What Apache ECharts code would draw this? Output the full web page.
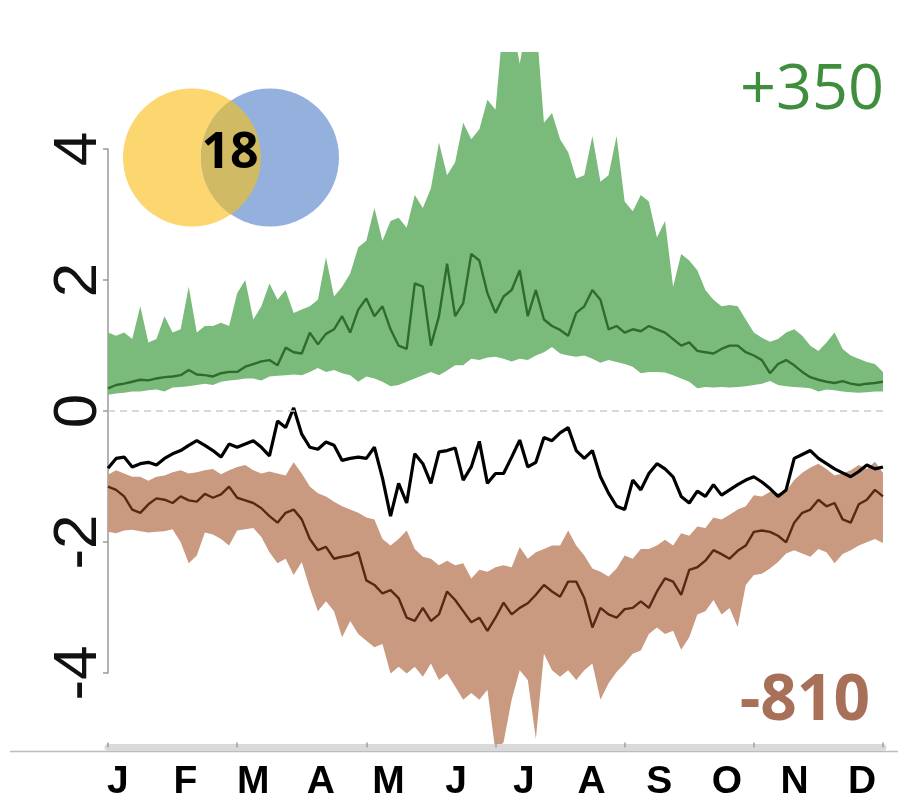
<!DOCTYPE html>
<html>
<head>
<meta charset="utf-8">
<script src="https://cdn.jsdelivr.net/npm/echarts@6/dist/echarts.min.js"></script>
<style>
html, body { margin: 0; padding: 0; background: #fff; }
#chart { width: 898px; height: 804px; }
</style>
</head>
<body>
<div id="chart"></div>
<script>
// month labels under the axis
var months = ['J', 'F', 'M', 'A', 'M', 'J', 'J', 'A', 'S', 'O', 'N', 'D'];

// green group: upper / lower edge of the band, median line
var gU = [1.2, 1.15, 1.2, 1.1, 1.6, 1.05, 1.1, 1.45, 1.2, 1.25,
    1.9, 1.2, 1.3, 1.3, 1.35, 1.3, 1.8, 2.0, 1.4, 1.6,
    1.95, 1.7, 1.85, 1.5, 1.55, 1.6, 1.7, 2.35, 1.75, 1.9,
    2.1, 2.5, 2.6, 3.1, 2.6, 2.9, 2.95, 2.8, 3.3, 3.1,
    3.4, 4.1, 3.6, 3.8, 4.4, 4.15, 4.3, 4.75, 4.6, 6,
    6, 5.3, 6, 6, 4.4, 4.55, 4.15, 3.95, 3.55, 3.6,
    4.2, 3.5, 3.6, 4.2, 3.2, 3.05, 3.3, 3.2, 2.65, 2.9,
    1.9, 2.4, 2.3, 2.15, 1.85, 1.7, 1.6, 1.62, 1.6, 1.4,
    1.2, 1.12, 1.06, 1.1, 1.2, 1.25, 1.15, 1.0, 0.92, 1.05,
    1.2, 0.95, 0.85, 0.8, 0.75, 0.72, 0.6];
var gL = [0.25, 0.27, 0.28, 0.3, 0.3, 0.32, 0.33, 0.3, 0.36, 0.37,
    0.38, 0.4, 0.42, 0.4, 0.45, 0.47, 0.48, 0.5, 0.5, 0.47,
    0.53, 0.54, 0.55, 0.56, 0.55, 0.6, 0.66, 0.6, 0.63, 0.58,
    0.55, 0.45, 0.53, 0.5, 0.45, 0.38, 0.4, 0.45, 0.5, 0.55,
    0.6, 0.55, 0.62, 0.7, 0.7, 0.8, 0.78, 0.82, 0.83, 0.8,
    0.76, 0.8, 0.78, 0.85, 0.9, 0.98, 0.88, 0.85, 0.83, 0.85,
    0.8, 0.74, 0.78, 0.75, 0.72, 0.68, 0.58, 0.6, 0.6, 0.59,
    0.55, 0.5, 0.45, 0.35, 0.37, 0.36, 0.37, 0.36, 0.37, 0.38,
    0.4, 0.42, 0.46, 0.4, 0.38, 0.37, 0.36, 0.35, 0.3, 0.33,
    0.32, 0.3, 0.29, 0.28, 0.29, 0.3, 0.3];
var gM = [0.35, 0.4, 0.42, 0.45, 0.48, 0.47, 0.5, 0.52, 0.53, 0.55,
    0.63, 0.56, 0.55, 0.53, 0.58, 0.6, 0.6, 0.68, 0.72, 0.76,
    0.78, 0.7, 0.97, 0.9, 0.88, 1.2, 1.02, 1.18, 1.25, 1.45,
    1.2, 1.55, 1.72, 1.45, 1.6, 1.25, 1.0, 0.95, 1.95, 1.9,
    1.0, 1.45, 2.25, 1.45, 1.65, 2.4, 2.3, 1.8, 1.5, 1.75,
    1.85, 2.15, 1.45, 1.85, 1.4, 1.3, 1.24, 1.15, 1.5, 1.6,
    1.85, 1.7, 1.25, 1.3, 1.2, 1.25, 1.22, 1.3, 1.25, 1.2,
    1.1, 1.0, 1.05, 0.92, 0.9, 0.88, 0.95, 1.0, 1.0, 0.9,
    0.85, 0.78, 0.58, 0.72, 0.78, 0.7, 0.6, 0.52, 0.48, 0.45,
    0.43, 0.46, 0.42, 0.4, 0.42, 0.43, 0.45];

// black line
var bk = [-0.87, -0.72, -0.7, -0.85, -0.8, -0.78, -0.82, -0.72, -0.65, -0.6,
    -0.52, -0.45, -0.52, -0.6, -0.7, -0.5, -0.55, -0.5, -0.45, -0.55,
    -0.68, -0.15, -0.25, 0.05, -0.35, -0.55, -0.58, -0.47, -0.52, -0.75,
    -0.72, -0.7, -0.72, -0.55, -1.02, -1.6, -1.1, -1.4, -0.65, -0.8,
    -1.1, -0.62, -0.6, -0.56, -1.05, -0.85, -0.46, -1.1, -0.95, -0.95,
    -0.7, -0.44, -0.85, -0.78, -0.4, -0.45, -0.33, -0.25, -0.6, -0.72,
    -0.6, -1.0, -1.25, -1.45, -1.5, -1.05, -1.2, -0.95, -0.8, -0.88,
    -1.0, -1.3, -1.4, -1.22, -1.3, -1.12, -1.28, -1.2, -1.12, -1.05,
    -1.0, -1.08, -1.18, -1.3, -1.2, -0.72, -0.66, -0.6, -0.72, -0.8,
    -0.88, -0.94, -1.0, -0.92, -0.82, -0.88, -0.85];

// brown group: upper / lower edge of the band, median line
var bU = [-0.97, -0.9, -0.95, -1.0, -1.0, -1.06, -1.0, -0.98, -0.93, -0.9,
    -0.95, -0.93, -0.9, -0.88, -0.96, -0.9, -0.85, -0.82, -0.9, -0.95,
    -0.92, -0.95, -0.98, -0.78, -0.95, -1.15, -1.25, -1.3, -1.38, -1.45,
    -1.5, -1.55, -1.62, -1.65, -1.95, -2.05, -1.95, -1.82, -2.1, -2.22,
    -2.25, -2.35, -2.28, -2.35, -2.32, -2.55, -2.42, -2.45, -2.38, -2.35,
    -2.38, -2.07, -2.25, -2.15, -2.1, -2.05, -2.05, -1.82, -2.05, -2.2,
    -2.4, -2.45, -2.52, -2.4, -2.2, -2.25, -2.1, -2.1, -2.05, -1.96,
    -2.05, -1.86, -1.9, -1.76, -1.78, -1.62, -1.65, -1.58, -1.5, -1.45,
    -1.28, -1.3, -1.23, -1.25, -1.22, -1.05, -0.94, -0.86, -0.8, -0.88,
    -0.98, -0.95, -0.9, -0.82, -0.88, -0.77, -0.94];
var bL = [-1.84, -1.86, -1.82, -1.81, -1.83, -1.85, -1.84, -1.83, -1.8, -2.0,
    -2.32, -2.2, -1.85, -1.88, -1.95, -2.05, -1.82, -1.8, -1.78, -1.92,
    -2.15, -2.32, -2.25, -2.5, -2.3, -2.7, -3.05, -2.9, -3.05, -3.45,
    -3.2, -3.4, -3.5, -3.6, -3.55, -4.0, -3.9, -4.0, -3.9, -4.05,
    -3.85, -4.1, -4.0, -4.2, -4.4, -4.3, -4.4, -4.25, -5.2, -5.05,
    -4.4, -3.95, -4.1, -5.0, -3.7, -3.95, -4.05, -3.95, -4.1, -3.95,
    -3.85, -4.4, -4.15, -3.98, -3.85, -3.7, -3.65, -3.4, -3.3, -3.4,
    -3.35, -3.64, -3.45, -3.1, -3.05, -2.88, -3.1, -3.0, -3.29, -2.65,
    -2.5, -2.48, -2.4, -2.3, -2.17, -2.12, -2.17, -2.22, -2.1, -2.15,
    -2.32, -2.18, -2.12, -2.05, -2.0, -1.95, -2.01];
var bM = [-1.15, -1.2, -1.3, -1.5, -1.55, -1.42, -1.33, -1.35, -1.4, -1.3,
    -1.36, -1.38, -1.26, -1.32, -1.27, -1.15, -1.32, -1.36, -1.4, -1.48,
    -1.6, -1.7, -1.55, -1.5, -1.65, -1.95, -2.12, -2.07, -2.25, -2.22,
    -2.2, -2.15, -2.58, -2.65, -2.78, -2.73, -2.85, -3.15, -3.2, -3.0,
    -3.2, -3.1, -2.75, -2.88, -3.05, -3.22, -3.15, -3.35, -3.15, -2.92,
    -3.1, -3.0, -2.93, -2.8, -2.65, -2.75, -2.83, -2.6, -2.6, -2.85,
    -3.3, -3.0, -3.1, -3.15, -3.02, -3.0, -2.9, -3.0, -2.75, -2.55,
    -2.6, -2.8, -2.42, -2.38, -2.28, -2.12, -2.18, -2.25, -2.13, -2.05,
    -1.84, -1.82, -1.84, -1.9, -2.0, -1.7, -1.55, -1.5, -1.35, -1.45,
    -1.4, -1.65, -1.7, -1.42, -1.35, -1.2, -1.3];

var days = gU.map(function (v, i) { return i; });
var gBand = gU.map(function (v, i) { return v - gL[i]; });
var bBand = bU.map(function (v, i) { return v - bL[i]; });

var chartDom = document.getElementById('chart');
var myChart = echarts.init(chartDom);

function lineSeries(data, color, width) {
    return {
        type: 'line',
        xAxisIndex: 0,
        yAxisIndex: 0,
        data: data,
        symbol: 'none',
        lineStyle: { color: color, width: width },
        silent: true
    };
}

function bandBase(data, stack) {
    return {
        type: 'line',
        data: data,
        stack: stack,
        stackStrategy: 'all',
        symbol: 'none',
        lineStyle: { width: 0, opacity: 0 },
        silent: true
    };
}

function bandFill(data, stack, color) {
    var s = bandBase(data, stack);
    s.areaStyle = { color: color, opacity: 1 };
    return s;
}

var option = {
    animation: false,
    backgroundColor: '#fff',
    grid: [
        { left: 108, right: 15, top: 52, bottom: 56.5 },
        { left: 108, right: 15, top: 149, bottom: 131 },
        { left: 84, right: 2, top: 700, bottom: 53 }
    ],
    xAxis: [
        {
            gridIndex: 0,
            type: 'category',
            data: days,
            boundaryGap: false,
            z: 10,
            axisLine: { onZero: false, lineStyle: { color: '#dadada', width: 7 } },
            axisTick: { show: true, inside: true, interval: 15, length: 5, lineStyle: { color: '#a0a0a0', width: 1.5 } },
            axisLabel: { show: false },
            splitLine: { show: false }
        },
        { gridIndex: 1, type: 'value', show: false },
        {
            gridIndex: 2,
            type: 'category',
            data: months,
            axisLine: { show: false },
            axisTick: { show: false },
            axisLabel: {
                interval: 0,
                margin: 12,
                fontSize: 39,
                fontWeight: 'bold',
                fontFamily: 'Liberation Sans',
                color: '#000'
            }
        }
    ],
    yAxis: [
        { gridIndex: 0, type: 'value', min: -5.13, max: 5.48, show: false },
        {
            gridIndex: 1,
            type: 'value',
            min: -4,
            max: 4,
            interval: 2,
            axisLine: { show: true, lineStyle: { color: '#9a9a9a', width: 1.5 } },
            axisTick: { show: true, length: 5, lineStyle: { color: '#9a9a9a', width: 1.5 } },
            splitLine: { show: false },
            axisLabel: {
                rotate: 90,
                margin: -2,
                fontSize: 62,
                fontFamily: 'Liberation Sans',
                color: '#111'
            }
        },
        { gridIndex: 2, type: 'value', show: false }
    ],
    series: [
        bandBase(gL, 'green'),
        bandFill(gBand, 'green', '#7aba7a'),
        lineSeries(gM, '#2e6c2e', 2.4),
        bandBase(bL, 'brown'),
        bandFill(bBand, 'brown', '#c99a80'),
        lineSeries(bM, '#5a2812', 2.4),
        {
            type: 'line',
            data: bk,
            symbol: 'none',
            lineStyle: { color: '#000', width: 3.2 },
            silent: true,
            markLine: {
                silent: true,
                symbol: 'none',
                label: { show: false },
                lineStyle: { color: '#cccccc', type: [7, 5], width: 1.5 },
                data: [{ yAxis: 0 }]
            }
        },
        {
            // the small Venn diagram in the corner
            type: 'custom',
            coordinateSystem: 'none',
            data: [0],
            silent: true,
            z: 5,
            renderItem: function () {
                return {
                    type: 'group',
                    children: [
                        { type: 'circle', shape: { cx: 192, cy: 157.5, r: 69 }, style: { fill: '#fcd66e' } },
                        { type: 'circle', shape: { cx: 270, cy: 157.5, r: 69 }, style: { fill: '#94b1de' } },
                        {
                            type: 'path',
                            shape: { pathData: 'M231 100.6 A69 69 0 0 1 231 214.4 A69 69 0 0 1 231 100.6 Z' },
                            style: { fill: '#d1ba64' }
                        }
                    ]
                };
            }
        }
    ],
    graphic: [
        {
            type: 'line',
            z: -1,
            shape: { x1: 10, y1: 751.5, x2: 898, y2: 751.5 },
            style: { stroke: '#bdbdbd', lineWidth: 1.5 }
        },
        {
            type: 'text',
            x: 230, y: 154, z: 100,
            style: {
                text: '18', fontSize: 50, fontWeight: 'bold', fontFamily: 'Open Sans', fill: '#000',
                align: 'center', verticalAlign: 'middle', textAlign: 'center', textVerticalAlign: 'middle'
            }
        },
        {
            type: 'text',
            x: 884, y: 91, z: 100,
            style: {
                text: '+350', fontSize: 63, fontFamily: 'Open Sans', fill: '#3e8e3e',
                align: 'right', verticalAlign: 'middle', textAlign: 'right', textVerticalAlign: 'middle'
            }
        },
        {
            type: 'text',
            x: 870, y: 702, z: 100,
            style: {
                text: '-810', fontSize: 64, fontWeight: 'bold', fontFamily: 'Open Sans', fill: '#a87058',
                align: 'right', verticalAlign: 'middle', textAlign: 'right', textVerticalAlign: 'middle'
            }
        }
    ]
};
myChart.setOption(option);

window.addEventListener('resize', function () {
    myChart.resize();
});
</script>
</body>
</html>
